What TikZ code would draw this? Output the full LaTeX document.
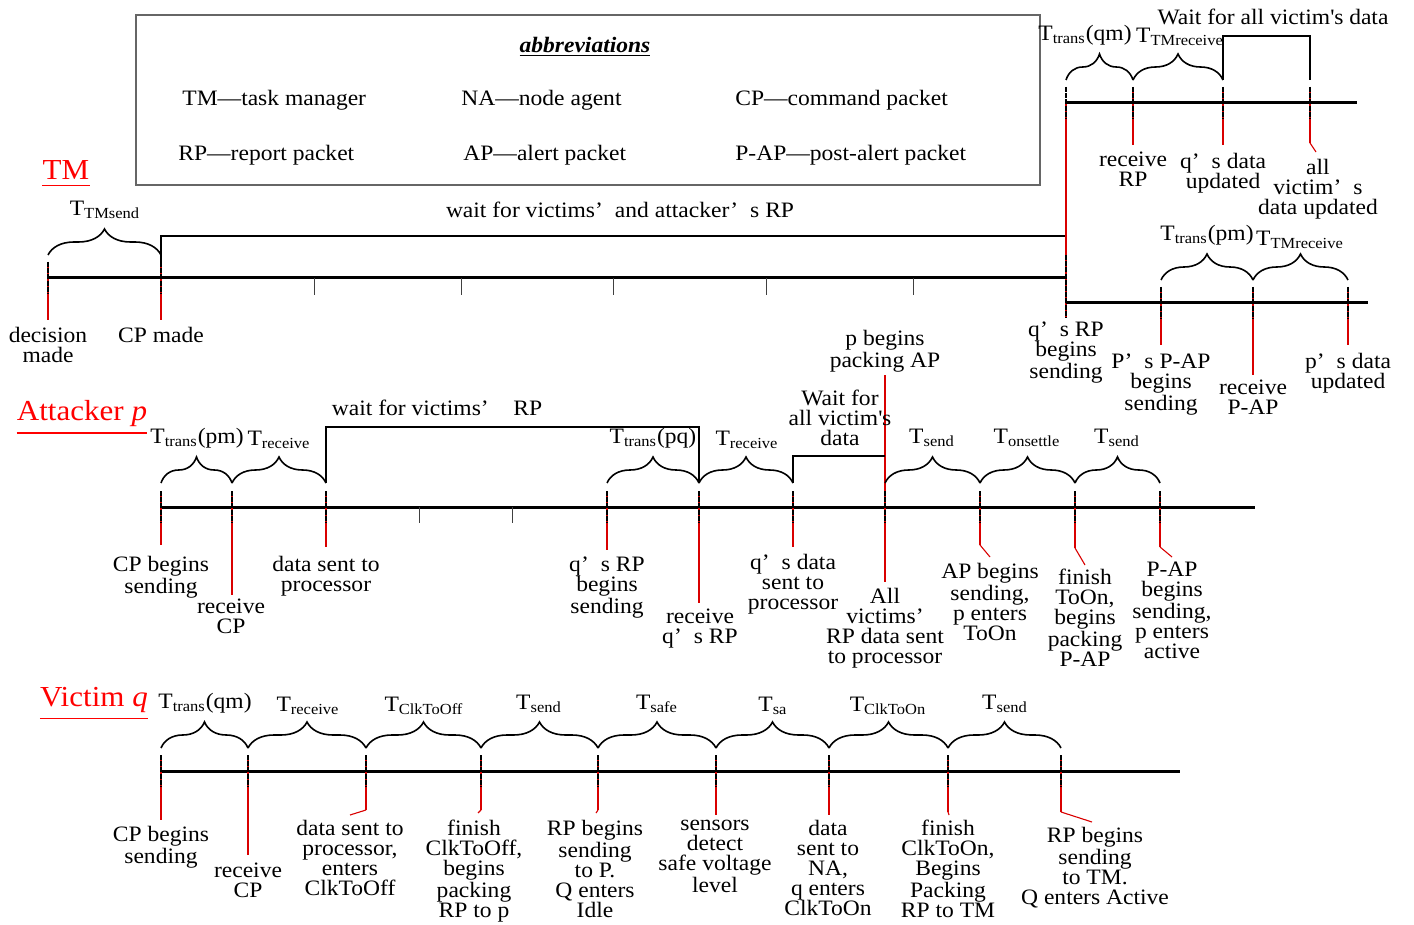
\documentclass[tikz,border=0pt]{standalone}
\usepackage{fontspec}
\setmainfont{Liberation Serif}[FakeStretch=1.07]
\usetikzlibrary{decorations.pathreplacing,calc}
\newcommand{\fs}{\fontsize{11}{10}\selectfont}
\newcommand{\ts}[1]{\textsubscript{#1}}
\newcommand{\qq}{’\hspace{0.55em}}
\newcommand{\ap}{\textquotesingle}
\newcommand{\mk}[3]{\draw[rl] (#1,#2-16) -- (#1,#3); \draw[mkd] (#1,#2-16) -- (#1,#2+16);}
\begin{document}
\begin{tikzpicture}[x=0.5pt,y=-0.5pt,
  tl/.style={line width=1.5pt},
  tick/.style={line width=0.5pt, black!75},
  mkd/.style={line width=1.3pt, black, dash pattern=on 2.5pt off 0.6pt},
  rl/.style={red!85!black, line width=0.55pt},
  br/.style={decorate, decoration={brace,amplitude=13pt}, line width=0.8pt},
  wt/.style={line width=0.7pt},
  lab/.style={align=center, inner sep=0pt, font=\fs, anchor=north, execute at begin node=\strut},
  blab/.style={inner sep=0pt, font=\fs},
  ttl/.style={inner sep=0pt, text=red, font=\fontsize{14.5}{14.5}\selectfont},
  uln/.style={red, line width=0.7pt},
  abb/.style={inner sep=0pt, font=\fs, anchor=west}]
\useasboundingbox (0,0) rectangle (1414,925);

% ---------- abbreviations box ----------
\draw[black!60, line width=0.6pt] (136,15) rectangle (1040,185);
\node[blab] (abt) at (585,47) {\bfseries\itshape\underline{abbreviations}};
\node[abb] (ab1) at (182,100) {TM—task manager};
\node[abb] (ab2) at (461,100) {NA—node agent};
\node[abb] (ab3) at (735,100) {CP—command packet};
\node[abb] (ab4) at (178,155) {RP—report packet};
\node[abb] (ab5) at (463,155) {AP—alert packet};
\node[abb] (ab6) at (735,155) {P-AP—post-alert packet};

% ---------- TM ----------
\node[ttl] (tmt) at (66,170) {TM};
\draw[uln] ([yshift=-3pt]tmt.base west) -- ([yshift=-3pt]tmt.base east);
\draw[tl] (48,278) -- (1066,278);
\foreach \x in {314,461,613,766,913} \draw[tick] (\x,278) -- (\x,295);
\mk{48}{278}{320}
\mk{161}{278}{320}
\draw[br] (48,255) -- (161,255);
\node[blab] (tmsend) at (105,210) {T\ts{TMsend}};
\draw[wt] (161,262) -- (161,236) -- (1066,236) -- (1066,262);
\node[blab] (tmwait) at (620,210) {wait for victims\qq and attacker\qq s RP};
\node[lab] (dm) at (48,327) {decision\\made};
\node[lab] (cpm) at (161,327) {CP made};

% big vertical at 1066
\draw[red!85!black, line width=0.8pt] (1066,100) -- (1066,318);
\draw[mkd] (1066,87) -- (1066,119);
\draw[mkd] (1066,255) -- (1066,318);

% top right timeline
\draw[tl] (1066,103) -- (1357,103);
\mk{1133}{103}{145}
\mk{1223}{103}{145}
\mk{1310}{103}{143}
\draw[rl] (1310,143) -- (1316,152);
\draw[br] (1066,80) -- (1133,80);
\draw[br] (1133,80) -- (1223,80);
\node[blab] (r1t) at (1085,35) {T\ts{trans}(qm)};
\node[blab] (r2t) at (1180,37) {T\ts{TMreceive}};
\draw[wt] (1223,80) -- (1223,36) -- (1310,36) -- (1310,80);
\node[blab] (rwait) at (1273,17) {Wait for all victim\ap s data};
\node[lab] (rl1) at (1133,152) {receive\\RP};
\node[lab] (rl2) at (1223,153) {q\qq s data\\updated};
\node[lab] (rl3) at (1318,159) {all\\victim\qq s\\data updated};

% second right timeline
\draw[tl] (1066,303) -- (1368,303);
\mk{1161}{303}{345}
\mk{1253}{303}{375}
\mk{1348}{303}{345}
\draw[br] (1161,280) -- (1253,280);
\draw[br] (1253,280) -- (1348,280);
\node[blab] (s1t) at (1207,235) {T\ts{trans}(pm)};
\node[blab] (s2t) at (1300,240) {T\ts{TMreceive}};
\node[lab] (sl0) at (1066,321) {q\qq s RP\\begins\\sending};
\node[lab] (sl1) at (1161,353) {P\qq s P-AP\\begins\\sending};
\node[lab] (sl2) at (1253,380) {receive\\P-AP};
\node[lab] (sl3) at (1348,353) {p\qq s data\\updated};

% ---------- Attacker ----------
\node[ttl] (att) at (82,414) {Attacker \textit{p}};
\draw[uln] ([yshift=-6pt]att.base west) -- ([yshift=-6pt]att.base east);
\draw[tl] (161,507) -- (1255,507);
\foreach \x in {419,512} \draw[tick] (\x,507) -- (\x,523);
\mk{161}{507}{545}
\mk{232}{507}{595}
\mk{326}{507}{547}
\mk{607}{507}{550}
\mk{699}{507}{603}
\mk{793}{507}{547}
\draw[rl] (885,375) -- (885,582);
\draw[mkd] (885,491) -- (885,523);
\mk{980}{507}{545}
\draw[rl] (980,545) -- (990,557);
\mk{1075}{507}{548}
\draw[rl] (1075,548) -- (1085,565);
\mk{1160}{507}{547}
\draw[rl] (1160,547) -- (1172,557);
\draw[br] (161,483) -- (232,483);
\draw[br] (232,483) -- (326,483);
\draw[br] (607,483) -- (699,483);
\draw[br] (699,483) -- (793,483);
\draw[br] (885,483) -- (980,483);
\draw[br] (980,483) -- (1075,483);
\draw[br] (1075,483) -- (1160,483);
\node[blab] (a1t) at (197,438) {T\ts{trans}(pm)};
\node[blab] (a2t) at (279,440) {T\ts{receive}};
\node[blab] (a3t) at (653,438) {T\ts{trans}(pq)};
\node[blab] (a4t) at (747,440) {T\ts{receive}};
\node[blab] (a5t) at (932,438) {T\ts{send}};
\node[blab] (a6t) at (1027,438) {T\ts{onsettle}};
\node[blab] (a7t) at (1117,438) {T\ts{send}};
\draw[wt] (326,483) -- (326,427) -- (699,427) -- (699,483);
\draw[wt] (793,483) -- (793,456) -- (885,456);
\node[blab] (aw1) at (437,408) {wait for victims\qq\hspace{0.3em} RP};
\node[lab] (aw2) at (840,390) {Wait for\\all victim\ap s\\data};
\node[lab] (apk) at (885,330) {p begins\\packing AP};
\node[lab] (al1) at (161,556) {CP begins\\sending};
\node[lab] (al2) at (231,599) {receive\\CP};
\node[lab] (al3) at (326,556) {data sent to\\processor};
\node[lab] (al4) at (607,556) {q\qq s RP\\begins\\sending};
\node[lab] (al5) at (700,609) {receive\\q\qq s RP};
\node[lab] (al6) at (793,554) {q\qq s data\\sent to\\processor};
\node[lab] (al7) at (885,588) {All\\victims’\\RP data sent\\to processor};
\node[lab] (al8) at (990,563) {AP begins\\sending,\\p enters\\ToOn};
\node[lab] (al9) at (1085,569) {finish\\ToOn,\\begins\\packing\\P-AP};
\node[lab] (al10) at (1172,562) {P-AP\\begins\\sending,\\p enters\\active};

% ---------- Victim ----------
\node[ttl] (vt) at (94,700) {Victim \textit{q}};
\draw[uln] ([yshift=-6pt]vt.base west) -- ([yshift=-6pt]vt.base east);
\draw[tl] (161,771) -- (1180,771);
\mk{161}{771}{820}
\mk{248}{771}{855}
\mk{366}{771}{810}
\draw[rl] (366,810) -- (350,815);
\mk{481}{771}{810}
\draw[rl] (481,810) -- (478,813);
\mk{598}{771}{810}
\draw[rl] (598,810) -- (596,813);
\mk{716}{771}{815}
\mk{829}{771}{815}
\mk{948}{771}{812}
\draw[rl] (948,812) -- (949,815);
\mk{1061}{771}{812}
\draw[rl] (1061,812) -- (1092,822);
\foreach \a/\b in {161/248,248/366,366/481,481/598,598/716,716/829,829/948,948/1061}
  \draw[br] (\a,748) -- (\b,748);
\node[blab] (v1t) at (205,703) {T\ts{trans}(qm)};
\node[blab] (v2t) at (308,706) {T\ts{receive}};
\node[blab] (v3t) at (424,706) {T\ts{ClkToOff}};
\node[blab] (v4t) at (539,704) {T\ts{send}};
\node[blab] (v5t) at (657,704) {T\ts{safe}};
\node[blab] (v6t) at (773,706) {T\ts{sa}};
\node[blab] (v7t) at (888,706) {T\ts{ClkToOn}};
\node[blab] (v8t) at (1005,704) {T\ts{send}};
\node[lab] (vl1) at (161,826) {CP begins\\sending};
\node[lab] (vl2) at (248,863) {receive\\CP};
\node[lab] (vl3) at (350,820) {data sent to\\processor,\\enters\\ClkToOff};
\node[lab] (vl4) at (474,820) {finish\\ClkToOff,\\begins\\packing\\RP to p};
\node[lab] (vl5) at (595,820) {RP begins\\sending\\to P.\\Q enters\\Idle};
\node[lab] (vl6) at (715,820) {sensors\\detect\\safe voltage\\level};
\node[lab] (vl7) at (828,820) {data\\sent to\\NA,\\q enters\\ClkToOn};
\node[lab] (vl8) at (948,820) {finish\\ClkToOn,\\Begins\\Packing\\RP to TM};
\node[lab] (vl9) at (1095,827) {RP begins\\sending\\to TM.\\Q enters Active};
\end{tikzpicture}
\end{document}
